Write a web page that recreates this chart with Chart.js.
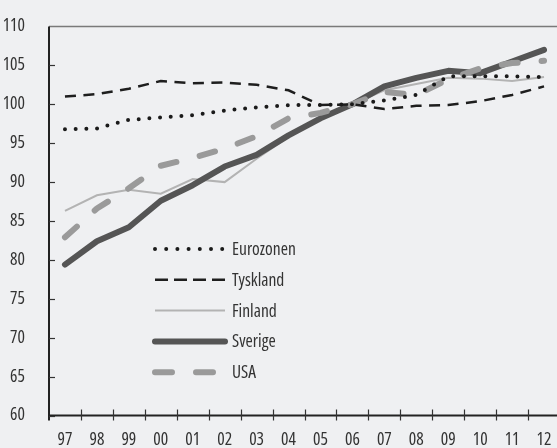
<!DOCTYPE html>
<html><head><meta charset="utf-8">
<script src="https://cdn.jsdelivr.net/npm/chart.js@4"></script>
<style>
html,body{margin:0;padding:0;background:#eff0f2;overflow:hidden;}
#wrap{position:relative;width:560px;height:448px;}
</style></head>
<body><div id="wrap"><canvas id="c"></canvas></div>
<script>
const categories = ['97','98','99','00','01','02','03','04','05','06','07','08','09','10','11','12'];
const eurozonen = [96.8, 96.9, 98.0, 98.3, 98.6, 99.2, 99.6, 99.9, 99.9, 100.0, 100.5, 101.2, 103.6, 103.6, 103.6, 103.5];
const tyskland  = [101.0, 101.3, 102.0, 103.0, 102.7, 102.8, 102.5, 101.8, 99.9, 100.0, 99.4, 99.8, 99.9, 100.4, 101.2, 102.3];
const finland   = [86.3, 88.3, 89.0, 88.5, 90.4, 90.0, 93.0, 95.8, 98.3, 100.0, 101.8, 102.6, 103.4, 103.3, 103.0, 103.5];
const sverige   = [79.4, 82.4, 84.2, 87.6, 89.6, 92.0, 93.5, 96.0, 98.2, 100.0, 102.3, 103.4, 104.3, 104.0, 105.5, 107.0];
const usa       = [82.9, 86.6, 89.2, 92.1, 93.1, 94.3, 95.9, 98.2, 98.9, 100.0, 101.6, 101.2, 103.2, 104.6, 105.3, 105.6];
const seriesNames = ['Eurozonen', 'Tyskland', 'Finland', 'Sverige', 'USA'];
const yMin = 60, yMax = 110, yStep = 5;

const FONT = '"Open Sans", "Liberation Sans", sans-serif';
const STRETCH = 'condensed';
const TEXT = '#333333';
const FSIZE = 17.5;

const decor = {
  id: 'decor',
  beforeDatasetsDraw(chart) {
    const {ctx, chartArea: a, scales: {x, y}} = chart;
    ctx.save();
    ctx.strokeStyle = '#7a7a7a'; ctx.lineWidth = 1.5;
    ctx.beginPath(); ctx.moveTo(a.left, a.top); ctx.lineTo(a.right + 2, a.top); ctx.stroke();
    ctx.strokeStyle = '#222'; ctx.lineWidth = 2;
    ctx.beginPath();
    ctx.moveTo(a.left, a.top); ctx.lineTo(a.left, a.bottom + 5);
    ctx.moveTo(a.left, a.bottom); ctx.lineTo(a.right + 2, a.bottom);
    ctx.stroke();
    ctx.lineWidth = 1.2; ctx.strokeStyle = '#333';
    y.ticks.forEach(t => {
      if (t.value >= yMax) return;
      const py = Math.round(y.getPixelForValue(t.value)) + 0.5;
      ctx.beginPath(); ctx.moveTo(a.left, py); ctx.lineTo(a.left + 6, py); ctx.stroke();
    });
    const half = (x.getPixelForValue(1) - x.getPixelForValue(0)) / 2;
    for (let i = 1; i < categories.length; i++) {
      const px = Math.round(x.getPixelForValue(i) - half) + 0.5;
      ctx.beginPath(); ctx.moveTo(px, a.bottom - 6); ctx.lineTo(px, a.bottom + 5); ctx.stroke();
    }
    ctx.restore();
  },
  afterDatasetsDraw(chart) {
    const {ctx, chartArea: a} = chart;
    const x0 = a.left + 106, x1 = a.left + 176, tx = a.left + 183;
    const row0 = 249, rowGap = 30.8;
    ctx.save();
    seriesNames.forEach((name, i) => {
      const ds = chart.data.datasets.find(d => d.label === name);
      const yy = row0 + i * rowGap;
      ctx.strokeStyle = ds.borderColor;
      ctx.lineWidth = ds.borderWidth;
      ctx.lineCap = ds.borderCapStyle || 'butt';
      ctx.setLineDash(ds.legendDash || ds.borderDash || []);
      ctx.beginPath(); ctx.moveTo(x0, yy); ctx.lineTo(x1, yy); ctx.stroke();
      ctx.setLineDash([]);
      ctx.fillStyle = TEXT;
      ctx.font = STRETCH + ' ' + FSIZE + 'px ' + FONT;
      ctx.textAlign = 'left'; ctx.textBaseline = 'middle';
      ctx.fillText(name, tx, yy + 1);
    });
    ctx.restore();
  }
};

new Chart(document.getElementById('c'), {
  type: 'line',
  data: {
    labels: categories,
    datasets: [
      {label: 'Eurozonen', data: eurozonen, borderColor: '#1a1a1a', borderWidth: 4, borderDash: [0, 10.7], legendDash: [0, 11.2], borderCapStyle: 'round', order: 1},
      {label: 'Tyskland', data: tyskland, borderColor: '#1e1e1e', borderWidth: 2.5, borderDash: [11, 7.5], legendDash: [13, 6], borderCapStyle: 'butt', order: 2},
      {label: 'Finland', data: finland, borderColor: '#b3b3b3', borderWidth: 2, order: 5},
      {label: 'Sverige', data: sverige, borderColor: '#555555', borderWidth: 6, borderCapStyle: 'round', borderJoinStyle: 'round', order: 4},
      {label: 'USA', data: usa, borderColor: '#9a9a9a', borderWidth: 6, borderDash: [16, 24], legendDash: [17, 24], borderCapStyle: 'round', borderJoinStyle: 'round', order: 3}
    ]
  },
  options: {
    responsive: true, maintainAspectRatio: false, animation: false,
    layout: {padding: {top: 19.5, left: 0, right: 0, bottom: 0}},
    elements: {point: {radius: 0}, line: {tension: 0}},
    plugins: {legend: {display: false}, tooltip: {enabled: false}},
    scales: {
      x: {
        offset: true,
        grid: {display: false}, border: {display: false},
        ticks: {color: TEXT, font: {family: FONT, size: FSIZE, weight: STRETCH}, padding: 6, autoSkip: false, maxRotation: 0},
        afterFit: s => { s.height = 32.5; }
      },
      y: {
        min: yMin, max: yMax,
        grid: {display: false}, border: {display: false},
        ticks: {stepSize: yStep, color: TEXT, font: {family: FONT, size: FSIZE, weight: STRETCH}, padding: 16},
        afterFit: s => { s.width = 49; }
      }
    }
  },
  plugins: [decor]
});
</script>
</body></html>
